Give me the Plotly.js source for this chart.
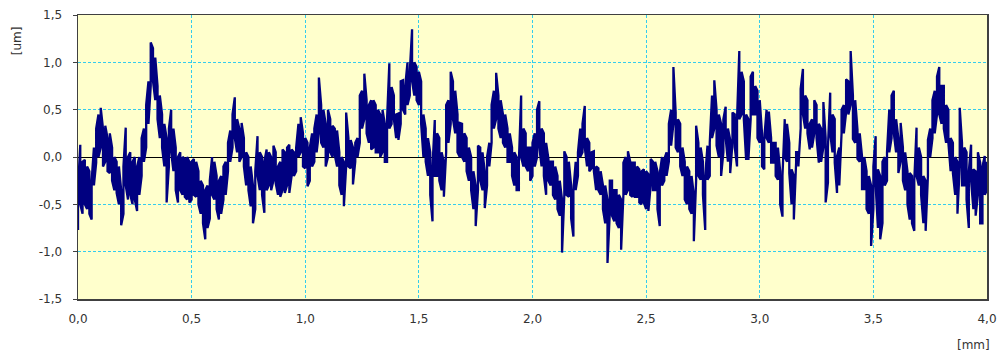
<!DOCTYPE html>
<html>
<head>
<meta charset="utf-8">
<script src="https://cdn.plot.ly/plotly-3.0.1.min.js"></script>
<style>
html,body{margin:0;padding:0;background:#fff;}
#chart{width:1003px;height:356px;}
</style>
</head>
<body>
<div id="chart"></div>
<script>
// Profile read every 0.01 mm from 0.00 to 4.00 mm (values in um):
// highest and lowest point of the trace within each 0.01 mm step.
const xStart = 0.0;
const xStep = 0.01;
const profileHigh = [
-0.34,0.13,-0.05,-0.03,-0.10,-0.15,-0.25,0.10,0.30,0.45,
0.52,0.30,0.33,0.20,0.25,0.10,0.00,-0.05,-0.10,-0.35,
-0.10,0.31,0.00,0.05,-0.05,0.00,-0.10,0.00,0.20,0.30,
0.55,0.80,1.21,1.15,1.05,0.75,0.65,0.45,0.35,0.20,
0.30,0.50,0.30,0.10,0.00,0.05,0.00,-0.02,0.00,-0.05,
-0.05,-0.02,-0.05,-0.15,-0.25,-0.30,-0.35,-0.30,-0.25,0.00,
-0.05,-0.20,-0.25,-0.20,-0.10,-0.05,0.15,0.28,0.45,0.63,
0.40,0.30,0.36,0.20,0.05,0.00,-0.10,-0.30,-0.15,0.22,
0.05,0.00,-0.05,0.08,0.05,0.00,0.12,0.05,-0.10,-0.05,
0.08,0.05,0.10,0.13,0.08,0.05,0.10,0.35,0.42,0.25,
0.20,0.15,0.10,0.25,0.30,0.45,0.84,0.55,0.50,0.35,
0.50,0.40,0.33,0.30,0.28,0.05,0.00,-0.05,0.47,0.20,
0.18,0.10,0.15,0.20,0.65,0.70,0.88,0.60,0.55,0.60,
0.60,0.55,0.50,0.45,0.50,0.35,0.40,0.99,0.74,0.65,
0.45,0.46,0.80,0.81,0.75,1.00,0.90,1.35,1.00,0.95,
0.90,0.80,0.45,0.30,0.20,0.05,-0.10,0.39,0.25,0.20,
0.05,-0.05,0.55,0.60,0.90,0.80,0.70,0.45,0.36,0.35,
0.25,0.20,0.10,0.00,-0.15,-0.30,0.12,0.10,0.05,-0.15,
0.00,0.15,0.55,0.70,0.89,0.65,0.60,0.45,0.45,0.30,
0.25,0.10,0.05,0.00,-0.05,0.65,0.30,0.25,0.10,0.10,
0.15,0.25,0.50,0.59,0.30,0.25,0.15,-0.02,-0.05,-0.05,
-0.10,-0.20,-0.25,-0.45,0.06,0.00,-0.05,-0.30,-0.35,-0.05,
0.05,0.30,0.35,0.54,0.20,0.15,0.05,0.06,-0.10,-0.12,
-0.15,-0.30,-0.30,-0.45,-0.25,-0.25,-0.35,-0.35,-0.40,-0.45,
-0.06,0.00,0.06,-0.05,-0.06,-0.06,-0.10,-0.13,-0.15,-0.13,
-0.15,-0.18,-0.02,-0.05,-0.05,-0.15,-0.17,0.00,-0.02,0.05,
0.35,0.50,0.95,0.47,0.40,0.35,0.10,-0.05,-0.10,-0.15,
-0.20,-0.40,0.33,0.15,0.10,-0.05,-0.20,0.12,0.15,0.65,
0.81,0.50,0.45,0.35,0.40,0.53,0.30,0.18,0.47,0.45,
0.40,1.12,0.90,0.80,0.45,0.40,0.85,0.90,0.75,0.70,
0.60,0.25,0.20,0.50,0.48,0.20,0.15,0.15,0.10,-0.15,
-0.20,0.40,0.35,0.15,-0.13,-0.20,0.05,0.05,0.72,0.93,
0.65,0.60,0.35,0.40,0.60,0.55,0.35,0.30,0.58,0.20,
0.10,0.68,0.45,0.40,0.01,0.10,0.50,0.55,0.82,0.80,
1.12,0.65,0.60,0.29,0.25,0.01,0.00,-0.15,-0.20,-0.30,
-0.10,0.22,-0.13,-0.20,-0.05,0.00,0.05,0.50,0.65,0.70,
0.40,0.20,0.36,0.10,0.05,-0.15,-0.17,-0.20,-0.25,0.31,
0.10,0.00,-0.20,-0.25,0.18,0.30,0.60,0.70,0.85,0.95,
0.75,0.75,0.55,0.50,0.20,0.15,0.00,-0.05,0.52,0.15,
0.10,0.05,-0.15,0.13,-0.13,-0.15,0.05,-0.06,-0.10,0.01,
-0.05
];
const profileLow = [
-0.77,-0.50,-0.60,-0.50,-0.55,-0.60,-0.66,-0.30,-0.06,0.00,
0.10,-0.10,-0.05,-0.15,-0.17,-0.25,-0.35,-0.38,-0.50,-0.72,
-0.60,-0.30,-0.45,-0.40,-0.50,-0.45,-0.57,-0.40,-0.20,-0.05,
0.10,0.35,0.75,0.80,0.60,0.40,0.20,0.10,-0.10,-0.48,
-0.10,0.05,-0.15,-0.35,-0.48,-0.35,-0.40,-0.42,-0.45,-0.48,
-0.45,-0.40,-0.42,-0.50,-0.60,-0.70,-0.87,-0.75,-0.65,-0.40,
-0.45,-0.55,-0.66,-0.60,-0.45,-0.40,-0.15,-0.05,0.10,0.20,
0.05,-0.05,0.00,-0.10,-0.30,-0.35,-0.52,-0.70,-0.55,-0.20,
-0.35,-0.40,-0.59,-0.35,-0.30,-0.35,-0.25,-0.28,-0.40,-0.42,
-0.35,-0.38,-0.30,-0.38,-0.20,-0.20,-0.15,0.00,0.05,-0.10,
-0.12,-0.31,-0.25,-0.10,-0.05,0.05,0.25,0.15,0.10,-0.10,
0.00,0.05,0.00,0.02,-0.10,-0.30,-0.40,-0.52,-0.10,-0.10,
-0.12,-0.29,-0.05,0.00,0.15,0.30,0.40,0.25,0.15,0.08,
0.10,0.05,0.05,0.00,0.05,-0.05,-0.05,0.30,0.35,0.40,
0.20,0.18,0.35,0.50,0.45,0.55,0.65,0.80,0.65,0.60,
0.55,0.35,0.00,-0.05,-0.20,-0.40,-0.68,-0.20,-0.20,-0.25,
-0.35,-0.42,0.05,0.15,0.35,0.40,0.25,0.05,0.00,0.00,
-0.05,-0.15,-0.25,-0.35,-0.55,-0.73,-0.35,-0.25,-0.35,-0.54,
-0.30,-0.10,0.15,0.30,0.40,0.30,0.20,0.15,0.10,-0.05,
-0.05,-0.20,-0.30,-0.35,-0.35,0.00,-0.10,-0.10,-0.15,-0.25,
-0.20,-0.10,0.00,0.10,-0.10,-0.20,-0.40,-0.25,-0.30,-0.40,
-0.45,-0.55,-0.62,-1.01,-0.40,-0.40,-0.42,-0.65,-0.84,-0.35,
-0.20,0.00,0.05,0.10,-0.10,-0.15,-0.12,-0.15,-0.35,-0.35,
-0.40,-0.55,-0.70,-1.12,-0.60,-0.62,-0.68,-0.70,-0.75,-0.98,
-0.40,-0.40,-0.35,-0.40,-0.42,-0.42,-0.42,-0.48,-0.50,-0.48,
-0.55,-0.57,-0.30,-0.35,-0.35,-0.55,-0.73,-0.30,-0.25,-0.20,
-0.05,0.12,0.35,0.10,0.05,-0.10,-0.20,-0.45,-0.50,-0.55,
-0.60,-0.89,-0.25,-0.20,-0.24,-0.40,-0.77,-0.24,-0.20,0.20,
0.30,0.12,0.00,-0.20,0.05,0.20,-0.05,-0.17,0.15,0.10,
-0.10,0.40,0.45,0.40,-0.03,-0.03,0.40,0.45,0.45,0.20,
0.15,-0.10,-0.13,0.20,0.15,-0.06,-0.06,-0.20,-0.24,-0.50,
-0.63,0.00,-0.05,-0.17,-0.50,-0.66,-0.06,-0.10,0.30,0.45,
0.30,0.25,0.08,0.10,0.25,0.20,-0.06,-0.05,0.10,-0.48,
-0.27,0.25,0.05,-0.06,-0.38,-0.30,0.25,0.25,0.47,0.45,
0.55,0.19,0.15,-0.02,-0.05,-0.34,-0.34,-0.55,-0.60,-0.94,
-0.55,-0.30,-0.75,-0.87,-0.70,-0.30,-0.25,0.05,0.20,0.25,
0.05,-0.17,-0.05,-0.25,-0.35,-0.50,-0.66,-0.70,-0.78,-0.20,
-0.30,-0.40,-0.70,-0.78,-0.20,0.00,0.20,0.25,0.45,0.45,
0.35,0.30,0.15,0.15,-0.15,-0.17,-0.40,-0.60,-0.10,-0.30,
-0.30,-0.45,-0.75,-0.25,-0.55,-0.62,-0.40,-0.70,-0.70,-0.40,
-0.35
];
const xTickVals = [0,0.5,1,1.5,2,2.5,3,3.5,4];
const xTickText = ["0,0","0,5","1,0","1,5","2,0","2,5","3,0","3,5","4,0"];
const yTickVals = [-1.5,-1,-0.5,0,0.5,1,1.5];
const yTickText = ["-1,5","-1,0","-0,5","0,0","0,5","1,0","1,5"];
const xUnit = "[mm]";
const yUnit = "[um]";

// trace goes through the high and low of each step in turn
const xs = [], ys = [];
profileHigh.forEach((hi, i) => {
  const x = +(xStart + i * xStep).toFixed(3);
  const lo = profileLow[i];
  if (i % 2 === 0) { xs.push(x, x); ys.push(lo, hi); }
  else { xs.push(x, x); ys.push(hi, lo); }
});

const font = {family: "DejaVu Sans, Verdana, sans-serif", size: 12, color: "#333333"};

Plotly.newPlot("chart", [{
  x: xs, y: ys, type: "scatter", mode: "lines",
  line: {color: "#000080", width: 2.3},
  hoverinfo: "skip"
}], {
  width: 1003, height: 356,
  margin: {l: 78, r: 16, t: 15, b: 57},
  paper_bgcolor: "#ffffff",
  plot_bgcolor: "#ffffcc",
  showlegend: false,
  font: font,
  xaxis: {
    range: [0, 4], tickvals: xTickVals, ticktext: xTickText,
    showgrid: true, gridcolor: "#33ccee", griddash: "3px,2px", gridwidth: 1,
    zeroline: false, showline: true, linecolor: "#404040", linewidth: 1.5, mirror: true,
    ticks: "outside", ticklen: 8, tickcolor: "rgba(0,0,0,0)", tickfont: font
  },
  yaxis: {
    range: [-1.5, 1.5], tickvals: yTickVals, ticktext: yTickText,
    showgrid: true, gridcolor: "#33ccee", griddash: "3px,2px", gridwidth: 1,
    zeroline: true, zerolinecolor: "#000000", zerolinewidth: 1,
    showline: true, linecolor: "#404040", linewidth: 1.5, mirror: true,
    ticks: "outside", ticklen: 4, tickcolor: "#404040", tickfont: font,
    ticklabelstandoff: 8
  },
  annotations: [
    {text: yUnit, xref: "paper", yref: "paper", x: -0.067, y: 0.908, xanchor: "center", yanchor: "middle",
     textangle: -90, showarrow: false, font: font},
    {text: xUnit, xref: "paper", yref: "paper", x: 1.0055, y: -0.162, xanchor: "right", yanchor: "middle",
     showarrow: false, font: font}
  ]
}, {displayModeBar: false, staticPlot: true});
</script>
</body>
</html>
